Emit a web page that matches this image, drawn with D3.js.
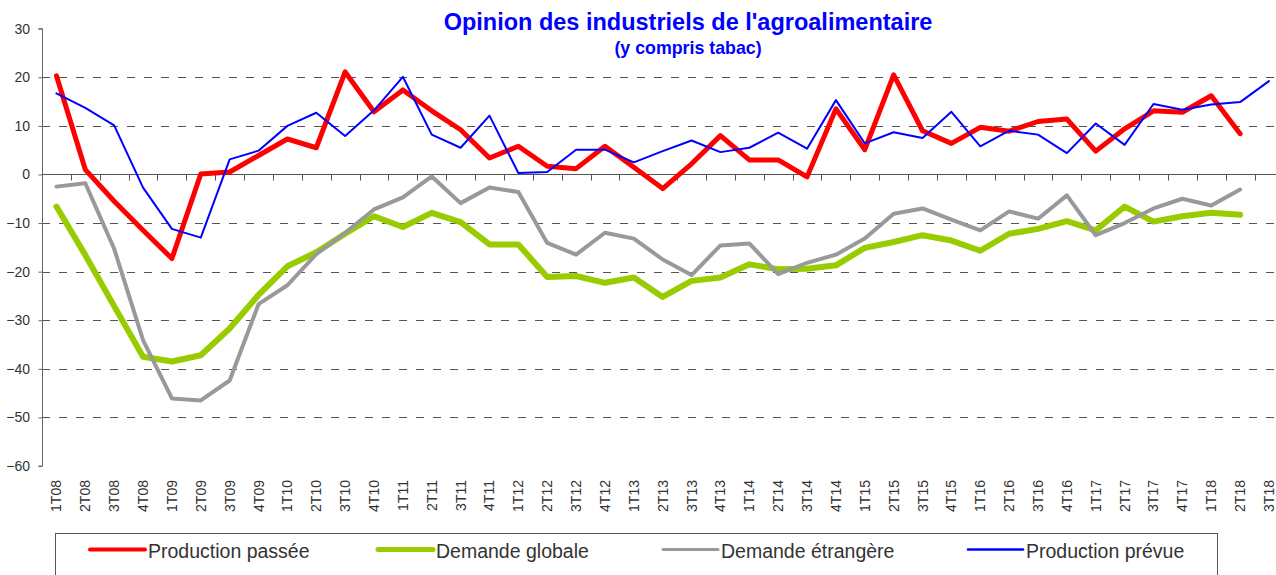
<!DOCTYPE html>
<html>
<head>
<meta charset="utf-8">
<script src="https://cdn.jsdelivr.net/npm/d3@7"></script>
<style>
  body { margin: 0; background: #fff; }
  svg { display: block; font-family: Arial, "Liberation Sans", sans-serif; }
</style>
</head>
<body>
<div id="chart"></div>
<script>
const quarters = ["1T08","2T08","3T08","4T08","1T09","2T09","3T09","4T09","1T10","2T10","3T10","4T10",
  "1T11","2T11","3T11","4T11","1T12","2T12","3T12","4T12","1T13","2T13","3T13","4T13",
  "1T14","2T14","3T14","4T14","1T15","2T15","3T15","4T15","1T16","2T16","3T16","4T16",
  "1T17","2T17","3T17","4T17","1T18","2T18","3T18"];

const productionPassee = [20.3, 1.0, -5.5, -11.5, -17.3, 0.1, 0.5, 3.9, 7.3, 5.5, 21.1, 12.9,
  17.4, 13.1, 9.2, 3.4, 5.8, 1.7, 1.2, 5.8, 1.5, -2.9, 2.2, 8.0,
  3.0, 3.0, -0.5, 13.5, 5.1, 20.5, 9.0, 6.4, 9.7, 8.9, 10.9, 11.4,
  4.8, 9.4, 13.1, 12.8, 16.2, 8.4];

const demandeGlobale = [-6.6, -16.6, -27.1, -37.5, -38.5, -37.2, -31.7, -24.8, -18.9, -16.0, -12.2, -8.6,
  -10.8, -7.9, -9.8, -14.4, -14.4, -21.1, -20.9, -22.3, -21.2, -25.2, -21.9, -21.2,
  -18.5, -19.5, -19.4, -18.7, -15.1, -13.9, -12.5, -13.6, -15.7, -12.2, -11.2, -9.6,
  -11.5, -6.6, -9.7, -8.6, -7.9, -8.3];

const demandeEtrangere = [-2.5, -1.8, -15.3, -34.1, -46.1, -46.5, -42.4, -26.7, -22.8, -16.4, -12.0, -7.2,
  -4.7, -0.4, -5.9, -2.7, -3.6, -14.1, -16.5, -12.0, -13.2, -17.5, -20.7, -14.6,
  -14.2, -20.5, -18.2, -16.5, -13.2, -8.1, -7.0, -9.3, -11.5, -7.6, -9.1, -4.3,
  -12.5, -10.0, -7.0, -5.0, -6.4, -3.1];

const productionPrevue = [16.7, 13.7, 10.1, -2.7, -11.2, -13.0, 3.1, 4.9, 10.0, 12.7, 7.9, 13.2,
  20.1, 8.2, 5.5, 12.1, 0.3, 0.5, 5.1, 5.1, 2.5, 4.8, 7.0, 4.6,
  5.5, 8.6, 5.3, 15.3, 6.4, 8.7, 7.5, 12.9, 5.8, 9.0, 8.2, 4.4,
  10.5, 6.1, 14.5, 13.3, 14.4, 14.9, 19.2];

const yTicks = [30, 20, 10, 0, -10, -20, -30, -40, -50, -60];
const gridValues = [20, 10, -10, -20, -30, -40, -50];

const series = [
  { name: "Production passée", values: productionPassee, color: "#ff0000", width: 5 },
  { name: "Demande globale", values: demandeGlobale, color: "#99cc00", width: 6 },
  { name: "Demande étrangère", values: demandeEtrangere, color: "#999999", width: 4 },
  { name: "Production prévue", values: productionPrevue, color: "#0000ff", width: 2 }
];

const svgWidth = 1276;
const svgHeight = 575;

const plotLeft = 42;
const bandWidth = 28.87;
const plotTop = 28.7;
const plotBottom = 466;

const svg = d3.select("#chart")
  .append("svg")
  .attr("width", svgWidth)
  .attr("height", svgHeight);

const x = d3.scaleBand()
  .domain(quarters)
  .range([plotLeft, plotLeft + bandWidth * quarters.length])
  .paddingInner(0).paddingOuter(0);

const y = d3.scaleLinear()
  .domain([-60, 30])
  .range([plotBottom, plotTop]);

// title
svg.append("text")
  .attr("x", 688).attr("y", 29.5)
  .attr("text-anchor", "middle")
  .attr("font-size", "23.5px").attr("font-weight", "bold")
  .attr("fill", "#0000ff")
  .text("Opinion des industriels de l'agroalimentaire");

svg.append("text")
  .attr("x", 688).attr("y", 54)
  .attr("text-anchor", "middle")
  .attr("font-size", "17.8px").attr("font-weight", "bold")
  .attr("fill", "#0000ff")
  .text("(y compris tabac)");

// dashed grid lines
svg.append("g")
  .selectAll("line")
  .data(gridValues)
  .join("line")
  .attr("x1", plotLeft).attr("x2", svgWidth)
  .attr("y1", d => Math.round(y(d)) + 0.5)
  .attr("y2", d => Math.round(y(d)) + 0.5)
  .attr("stroke", "#555")
  .attr("stroke-width", 1)
  .attr("stroke-dasharray", "8,9");

// y axis
const leftAxis = d3.axisLeft(y).tickValues(yTicks).tickSize(4).tickPadding(8.5);
const yAxis = svg.append("g")
  .attr("transform", `translate(${plotLeft + 0.5},0)`)
  .call(leftAxis);
yAxis.attr("font-size", null).attr("font-family", null);
yAxis.select(".domain").attr("stroke", "#666").attr("d", `M-4,${y(30)}H0V${y(-60)}H-4`);
yAxis.selectAll(".tick line").attr("stroke", "#666");
yAxis.selectAll(".tick text")
  .style("font-size", "14px")
  .attr("fill", "#333");

// x axis line at zero with tick marks at band boundaries
const zeroY = Math.round(y(0)) + 0.5;
svg.append("line")
  .attr("x1", plotLeft).attr("x2", svgWidth)
  .attr("y1", zeroY).attr("y2", zeroY)
  .attr("stroke", "#555");

svg.append("g")
  .selectAll("line")
  .data(quarters)
  .join("line")
  .attr("x1", d => Math.round(x(d) + x.bandwidth()) + 0.5)
  .attr("x2", d => Math.round(x(d) + x.bandwidth()) + 0.5)
  .attr("y1", zeroY).attr("y2", zeroY + 6)
  .attr("stroke", "#555");

// rotated quarter labels at bottom
svg.append("g")
  .selectAll("text")
  .data(quarters)
  .join("text")
  .attr("transform", d => `translate(${x(d) + x.bandwidth() / 2 + 5}, 480) rotate(-90)`)
  .attr("text-anchor", "end")
  .style("font-size", "14px")
  .attr("fill", "#333")
  .text(d => d);

// lines
const line = d3.line()
  .x((d, i) => x(quarters[i]) + x.bandwidth() / 2)
  .y(d => y(d));

svg.append("g")
  .selectAll("path")
  .data(series)
  .join("path")
  .attr("d", d => line(d.values))
  .attr("fill", "none")
  .attr("stroke", d => d.color)
  .attr("stroke-width", d => d.width)
  .attr("stroke-linejoin", "round")
  .attr("stroke-linecap", "round");

// legend
svg.append("rect")
  .attr("x", 55.5).attr("y", 533.5)
  .attr("width", 1162).attr("height", 60)
  .attr("fill", "none")
  .attr("stroke", "#555");

const legendX = [90, 378, 663, 968];
const legend = svg.append("g")
  .selectAll("g")
  .data(series)
  .join("g")
  .attr("transform", (d, i) => `translate(${legendX[i]}, 549.5)`);

legend.append("line")
  .attr("x1", 0).attr("x2", 55)
  .attr("stroke", d => d.color)
  .attr("stroke-width", d => Math.max(d.width - 1, 2.5))
  .attr("stroke-linecap", "round");

legend.append("text")
  .attr("x", 58).attr("y", 8.5)
  .style("font-size", "19.5px")
  .attr("fill", "#333")
  .text(d => d.name);
</script>
</body>
</html>
